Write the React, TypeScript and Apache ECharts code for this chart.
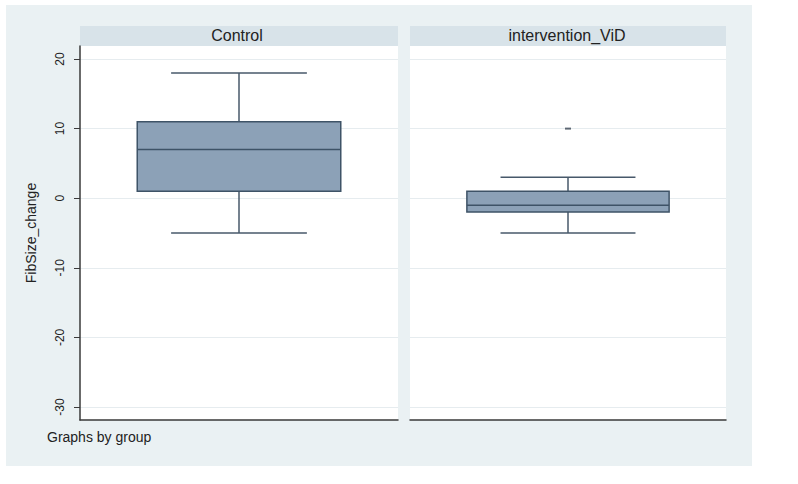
import React, { useEffect, useRef } from "react";
import * as echarts from "echarts";

const groups = ["Control", "intervention_ViD"];
const lowerWhisker = [-5, -5];
const quartile1 = [1, -2];
const medians = [7, -1];
const quartile3 = [11, 1];
const upperWhisker = [18, 3];
const outliers: number[][] = [[], [10]];
const yTicks = [-30, -20, -10, 0, 10, 20];
const yMin = -31.87;
const yMax = 21.87;

const BOX_FILL = "#8CA1B7";
const BOX_STROKE = "#3E5367";
const WHISKER = "#47586A";

function boxRender(params: any, api: any) {
  const cat = api.value(0);
  const lo = api.coord([cat, api.value(1)]);
  const q1 = api.coord([cat, api.value(2)]);
  const md = api.coord([cat, api.value(3)]);
  const q3 = api.coord([cat, api.value(4)]);
  const hi = api.coord([cat, api.value(5)]);
  const band = api.size([1, 0])[0];
  const bw = band * 0.64;
  const cw = band * 0.427;
  const cx = md[0];
  const ls = { stroke: WHISKER, lineWidth: 1.5 };
  return {
    type: "group",
    children: [
      { type: "line", shape: { x1: cx, y1: hi[1], x2: cx, y2: q3[1] }, style: ls },
      { type: "line", shape: { x1: cx, y1: q1[1], x2: cx, y2: lo[1] }, style: ls },
      { type: "line", shape: { x1: cx - cw / 2, y1: hi[1], x2: cx + cw / 2, y2: hi[1] }, style: ls },
      { type: "line", shape: { x1: cx - cw / 2, y1: lo[1], x2: cx + cw / 2, y2: lo[1] }, style: ls },
      {
        type: "rect",
        shape: { x: cx - bw / 2, y: q3[1], width: bw, height: q1[1] - q3[1] },
        style: { fill: BOX_FILL, stroke: BOX_STROKE, lineWidth: 1.5 },
      },
      {
        type: "line",
        shape: { x1: cx - bw / 2, y1: md[1], x2: cx + bw / 2, y2: md[1] },
        style: { stroke: BOX_STROKE, lineWidth: 1.5 },
      },
    ],
  };
}

export default function App() {
  const ref = useRef<HTMLDivElement>(null);
  useEffect(() => {
    if (!ref.current) return;
    const chart = echarts.init(ref.current, null, { renderer: "svg" });
    const panels = [
      { left: 80, width: 318 },
      { left: 410, width: 316 },
    ];
    const grids = panels.map((p) => ({
      left: p.left,
      top: 46,
      width: p.width,
      height: 374,
      show: true,
      backgroundColor: "#FFFFFF",
      borderWidth: 0,
    }));
    const xAxes = groups.map((g, i) => ({
      type: "category",
      gridIndex: i,
      data: [g],
      axisLine: { show: true, onZero: false, lineStyle: { color: "#3A3A3A", width: 1.5 } },
      axisTick: { show: false },
      axisLabel: { show: false },
    }));
    const yAxes = groups.map((g, i) => ({
      type: "value",
      gridIndex: i,
      min: yMin,
      max: yMax,
      name: i === 0 ? "FibSize_change" : "",
      nameLocation: "middle",
      nameRotate: 90,
      nameGap: 42,
      nameTextStyle: { fontSize: 14, color: "#222", fontFamily: "Liberation Sans, Arial, sans-serif" },
      axisLine: { show: i === 0, onZero: false, lineStyle: { color: "#3A3A3A", width: 1.5 } },
      axisTick: { show: i === 0, length: 6, customValues: yTicks, lineStyle: { color: "#3A3A3A" } },
      axisLabel: {
        show: i === 0,
        customValues: yTicks,
        rotate: 90,
        margin: 14,
        fontSize: 12,
        color: "#222",
        fontFamily: "Liberation Sans, Arial, sans-serif",
      },
      splitLine: { show: false },
    }));
    const series: any[] = [];
    groups.forEach((g, i) => {
      series.push({
        type: "custom",
        xAxisIndex: i,
        yAxisIndex: i,
        renderItem: boxRender,
        encode: { x: 0, y: [1, 2, 3, 4, 5] },
        data: [[0, lowerWhisker[i], quartile1[i], medians[i], quartile3[i], upperWhisker[i]]],
        markLine: {
          silent: true,
          symbol: "none",
          label: { show: false },
          lineStyle: { color: "#E6ECEF", width: 1, type: "solid" },
          data: yTicks.map((t) => ({ yAxis: t })),
          z: 0,
        },
        z: 3,
      });
      if (outliers[i].length) {
        series.push({
          type: "scatter",
          xAxisIndex: i,
          yAxisIndex: i,
          symbol: "rect",
          symbolSize: [6, 2],
          itemStyle: { color: "#3A4654" },
          data: outliers[i].map((v) => [0, v]),
          z: 4,
        });
      }
    });
    const font = "Liberation Sans, Arial, sans-serif";
    chart.setOption({
      animation: false,
      backgroundColor: "#FFFFFF",
      graphic: [
        { type: "rect", z: -10, shape: { x: 6, y: 5, width: 746, height: 461 }, style: { fill: "#EAF1F3" } },
        { type: "rect", z: -5, shape: { x: 80, y: 26, width: 318, height: 20 }, style: { fill: "#D8E3E9" } },
        { type: "rect", z: -5, shape: { x: 410, y: 26, width: 316, height: 20 }, style: { fill: "#D8E3E9" } },
        {
          type: "text", x: 237, y: 35,
          style: { text: groups[0], fill: "#222", font: `16px ${font}`, align: "center", verticalAlign: "middle" },
        },
        {
          type: "text", x: 567, y: 35,
          style: { text: groups[1], fill: "#222", font: `16px ${font}`, align: "center", verticalAlign: "middle" },
        },
        {
          type: "text", x: 47, y: 437,
          style: { text: "Graphs by group", fill: "#222", font: `14px ${font}`, align: "left", verticalAlign: "middle" },
        },
      ],
      grid: grids,
      xAxis: xAxes,
      yAxis: yAxes,
      series,
    });
    return () => chart.dispose();
  }, []);
  return <div ref={ref} style={{ position: "absolute", left: 0, top: 0, width: 798, height: 484 }} />;
}
